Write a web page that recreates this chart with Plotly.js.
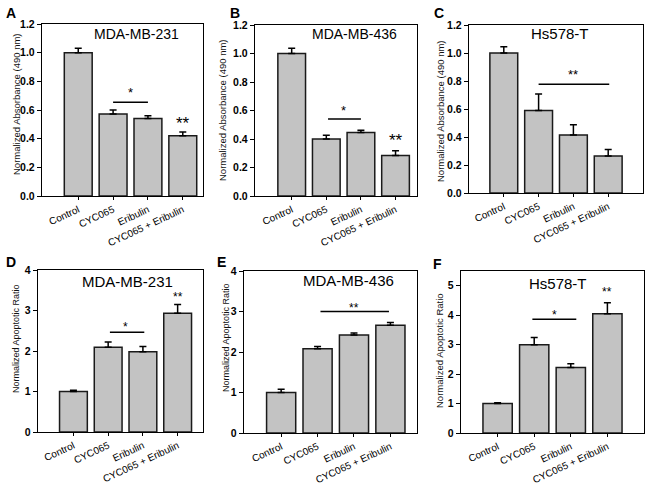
<!DOCTYPE html>
<html><head><meta charset="utf-8">
<script src="https://cdn.plot.ly/plotly-3.0.1.min.js"></script>
<style>html,body{margin:0;padding:0;background:#fff}#chart{width:650px;height:487px}</style>
</head><body><div id="chart"></div>
<script>
// ---------- data ----------
const categories = ['Control', 'CYC065', 'Eribulin', 'CYC065 + Eribulin'];

const absMDA231 = [1.00, 0.572, 0.540, 0.421];
const errAbsMDA231 = [0.030, 0.028, 0.020, 0.025];
const absMDA436 = [1.00, 0.400, 0.446, 0.284];
const errAbsMDA436 = [0.037, 0.027, 0.016, 0.033];
const absHs578 = [1.00, 0.590, 0.414, 0.264];
const errAbsHs578 = [0.045, 0.117, 0.074, 0.046];

const apoMDA231 = [1.00, 2.094, 1.980, 2.935];
const errApoMDA231 = [0.030, 0.126, 0.130, 0.215];
const apoMDA436 = [1.00, 2.080, 2.420, 2.660];
const errApoMDA436 = [0.080, 0.057, 0.050, 0.066];
const apoHs578 = [1.00, 3.000, 2.220, 4.050];
const errApoHs578 = [0.030, 0.240, 0.130, 0.370];

const cellLines = ['MDA-MB-231', 'MDA-MB-436', 'Hs578-T', 'MDA-MB-231', 'MDA-MB-436', 'Hs578-T'];
const panelLetters = ['A', 'B', 'C', 'D', 'E', 'F'];
const yTitles = ['Normalized Absorbance (490 nm)', 'Normalized Absorbance (490 nm)', 'Normalized Absorbance (490 nm)',
                 'Normalized Apoptotic Ratio', 'Normalized Apoptotic Ratio', 'Normalized Apoptotic Ratio'];

// significance brackets: [fromIndex, toIndex, lineValue, label, labelIndex, labelValue]
const sigLines = [
  [1.0, 2.0, 0.654, '*', 1.5, 0.74],
  [1.05, 2.0, 0.54, '*', 1.5, 0.618],
  [1.0, 3.03, 0.776, '**', 2.0, 0.87],
  [1.05, 2.04, 2.46, '*', 1.5, 2.67],
  [1.08, 2.96, 3.00, '**', 2.0, 3.17],
  [0.95, 2.15, 3.86, '*', 1.55, 4.10]
];
// star above the combination bar: [index, value, label] (null when absent)
const topStars = [[3, 0.535, '**'], [3, 0.418, '**'], null, [3, 3.44, '**'], null, [3, 4.92, '**']];

const series = [absMDA231, absMDA436, absHs578, apoMDA231, apoMDA436, apoHs578];
const errors = [errAbsMDA231, errAbsMDA436, errAbsHs578, errApoMDA231, errApoMDA436, errApoHs578];

// ---------- layout (pixel boxes) ----------
const W = 650, H = 487;
const panels = [
  {l: 42, r: 203, t: 24, b: 196, xr: [-1.04, 3.58], yr: [0, 1.2], dt: 0.2, fmt: '.1f',
   title: [136, 34, 14], letter: [11, 13], yt: [16, 104, 9.5], star: [13, 17]},
  {l: 255, r: 417, t: 25, b: 196, xr: [-1.06, 3.62], yr: [0, 1.2], dt: 0.2, fmt: '.1f',
   title: [355, 34, 14], letter: [235, 13], yt: [222, 110, 9.5], star: [13, 17]},
  {l: 469, r: 643, t: 25, b: 193, xr: [-1, 4], yr: [0, 1.2], dt: 0.2, fmt: '.1f',
   title: [560, 33, 15], letter: [439, 13], yt: [440, 111, 9.5], star: [13, 17]},
  {l: 38, r: 203, t: 270, b: 432, xr: [-1.02, 3.73], yr: [0, 4], dt: 1, fmt: 'd',
   title: [127, 281, 15], letter: [11, 262], yt: [16, 339, 9], star: [12, 12]},
  {l: 244, r: 417, t: 271, b: 433, xr: [-1.02, 3.73], yr: [0, 4], dt: 1, fmt: 'd',
   title: [348, 280, 15], letter: [221, 262], yt: [226, 338, 9], star: [12, 12]},
  {l: 461, r: 644, t: 271, b: 433, xr: [-1, 4], yr: [0, 5.5], dt: 1, fmt: 'd',
   title: [558, 283, 15], letter: [437, 264], yt: [439, 351, 9.5], star: [12, 12]}
];

const FONT = 'Liberation Sans, Arial, sans-serif';
const xIdx = categories.map((c, i) => i);
const traces = [];
const layout = {
  width: W, height: H, margin: {l: 0, r: 0, t: 0, b: 0},
  paper_bgcolor: '#fff', plot_bgcolor: '#fff', showlegend: false,
  font: {family: FONT, color: '#000'},
  annotations: [], shapes: []
};

panels.forEach((p, k) => {
  const n = k === 0 ? '' : String(k + 1);
  const xa = 'x' + n, ya = 'y' + n;
  traces.push({
    type: 'bar', x: xIdx, y: series[k], xaxis: xa, yaxis: ya, width: 0.8,
    marker: {color: '#c3c3c3', line: {color: '#1a1a1a', width: 1.5}},
    error_y: {type: 'data', symmetric: false, array: errors[k], arrayminus: errors[k].map(() => 0),
              color: '#000', thickness: 1.5, width: 3.5},
    hoverinfo: 'skip'
  });
  layout['xaxis' + n] = {
    domain: [p.l / W, p.r / W], anchor: ya, range: p.xr,
    tickmode: 'array', tickvals: xIdx, ticktext: categories, tickangle: -25,
    tickfont: {size: 10, family: FONT, color: '#000'},
    ticks: 'outside', ticklen: 3, tickwidth: 1, tickcolor: '#000',
    showline: true, linecolor: '#000', linewidth: 1.2, mirror: true,
    showgrid: false, zeroline: false, fixedrange: true
  };
  layout['yaxis' + n] = {
    domain: [1 - p.b / H, 1 - p.t / H], anchor: xa, range: p.yr,
    dtick: p.dt, tick0: 0, tickformat: p.fmt,
    tickfont: {size: 10.5, family: FONT, color: '#000', weight: 700},
    ticks: 'outside', ticklen: 4, tickwidth: 1, tickcolor: '#000',
    showline: true, linecolor: '#000', linewidth: 1.2, mirror: true,
    showgrid: false, zeroline: false, fixedrange: true
  };
  // cell-line title
  layout.annotations.push({xref: 'paper', yref: 'paper', x: p.title[0] / W, y: 1 - p.title[1] / H,
    text: cellLines[k], showarrow: false, xanchor: 'center', yanchor: 'middle',
    font: {size: p.title[2], family: FONT, color: '#000'}});
  // panel letter
  layout.annotations.push({xref: 'paper', yref: 'paper', x: p.letter[0] / W, y: 1 - p.letter[1] / H,
    text: '<b>' + panelLetters[k] + '</b>', showarrow: false, xanchor: 'center', yanchor: 'middle',
    font: {size: 14, family: FONT, color: '#000'}});
  // y-axis title
  layout.annotations.push({xref: 'paper', yref: 'paper', x: p.yt[0] / W, y: 1 - p.yt[1] / H,
    text: yTitles[k], showarrow: false, textangle: -90, xanchor: 'center', yanchor: 'middle',
    font: {size: p.yt[2], family: FONT, color: '#111'}});
  // significance bracket
  const s = sigLines[k];
  layout.shapes.push({type: 'line', xref: xa, yref: ya, x0: s[0], x1: s[1], y0: s[2], y1: s[2],
    line: {color: '#000', width: 1.5}});
  layout.annotations.push({xref: xa, yref: ya, x: s[4], y: s[5], text: s[3], showarrow: false,
    xanchor: 'center', yanchor: 'middle', yshift: -3, font: {size: p.star[0], family: FONT, color: '#000'}});
  const ts = topStars[k];
  if (ts) {
    layout.annotations.push({xref: xa, yref: ya, x: ts[0], y: ts[1], text: ts[2], showarrow: false,
      xanchor: 'center', yanchor: 'middle', yshift: -4, font: {size: p.star[1], family: FONT, color: '#000'}});
  }
});

Plotly.newPlot('chart', traces, layout, {staticPlot: true, displayModeBar: false});
</script>
</body></html>
